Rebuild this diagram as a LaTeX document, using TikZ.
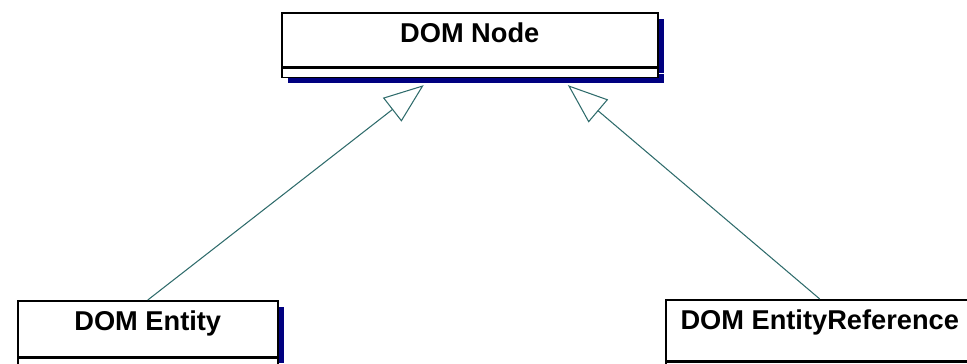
\documentclass[tikz,border=0pt]{standalone}
\usepackage{fontspec}
\setmainfont{Liberation Sans}
\usetikzlibrary{arrows.meta,calc,shadows}
\definecolor{umlteal}{RGB}{46,107,107}
\definecolor{umlnavy}{RGB}{0,0,128}

\begin{document}
\begin{tikzpicture}[x=0.02cm,y=-0.02cm,
        classname/.style={draw,line width=0.9pt,fill=white,anchor=north west,
            inner xsep=0pt,inner ysep=0.22cm,text height=0.38cm,text depth=0.26cm,
            font=\bfseries\fontsize{15.5}{18}\selectfont,
            drop shadow={shadow xshift=0.12cm,shadow yshift=-0.12cm,fill=umlnavy,opacity=1}},
        classattr/.style={draw,line width=0.9pt,fill=white,anchor=north west,inner sep=0pt,
            drop shadow={shadow xshift=0.12cm,shadow yshift=-0.12cm,fill=umlnavy,opacity=1}},
        inherit/.style={umlteal,line width=0.6pt,-{Triangle[open,length=0.8cm,width=0.6cm]}}]
    \useasboundingbox (0,0) rectangle (967,364);
    \clip (0,0) rectangle (967,364);
    % superclass
    \node[classname,minimum width=7.52cm] (domnode) at (281,12) {DOM Node};
    \node[classattr,minimum width=7.52cm,minimum height=0.18cm] (domnodeattr) at (domnode.south west) {};
    % subclasses
    \node[classname,minimum width=5.2cm,text depth=0.3cm] (entity) at (17,300) {DOM Entity};
    \node[classattr,minimum width=5.2cm,minimum height=0.4cm] (entityattr) at (entity.south west) {};
    \node[classname,minimum width=6.16cm,text depth=0.4cm] (entityref) at (665,299) {DOM EntityReference};
    \node[classattr,minimum width=6.16cm,minimum height=0.4cm] (entityrefattr) at (entityref.south west) {};
    % arrow ends under the shadow
    \coordinate (tipa) at ($(domnodeattr.south west)!0.378!(domnodeattr.south east)+(0,7)$);
    \coordinate (tipb) at ($(domnodeattr.south west)!0.76!(domnodeattr.south east)+(0,7)$);
    \foreach \from/\to in {entity/tipa, entityref/tipb}
        \draw[inherit] (\from.north) -- (\to);
\end{tikzpicture}
\end{document}
